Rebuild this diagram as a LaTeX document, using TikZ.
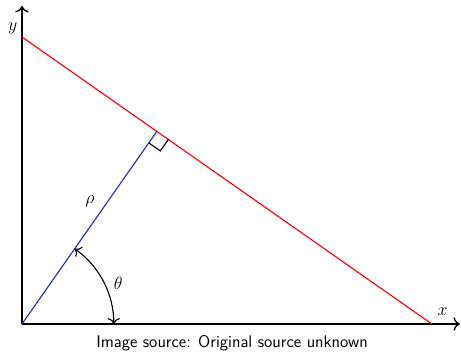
\documentclass[tikz,border=0pt]{standalone}
\usepackage{xcolor}
\usepackage{tikz}
\usetikzlibrary{arrows.meta, calc}

\definecolor{normblue}{RGB}{30,50,170}

\begin{document}
\begin{tikzpicture}[>={To[scale=1.2]},
        every node/.style={font=\fontsize{12.5pt}{14pt}\selectfont},
        axis/.style={->, line width=0.9pt},
        redline/.style={red, line width=0.75pt},
        normal/.style={normblue, line width=0.75pt},
        anglearc/.style={<->, line width=0.75pt},
        rightangle/.style={line width=0.75pt},
        caption/.style={font=\fontsize{11.3pt}{13pt}\selectfont\sffamily}]
        \useasboundingbox (-0.517,-0.635) rectangle (10.325,7.62);

        \coordinate (O) at (0,0);
        \coordinate (xend) at (10.3,0);
        \coordinate (yend) at (0,7.48);
        \coordinate (A) at (0,6.75);
        \coordinate (B) at (9.64,0);
        \coordinate (F) at (55:5.53);
        \coordinate (arcstart) at (2.16,0);

        \draw[axis] (O) -- (xend);
        \draw[axis] (O) -- (yend);
        \node (xlab) at (9.89,0.29) {$x$};
        \node (ylab) at (-0.22,6.95) {$y$};

        \draw[redline] (A) -- (B);
        \draw[normal] (O) -- (F);
        \draw[rightangle] ($(F)+(235:0.33)$) -- ++(-35:0.33) -- ($(F)+(-35:0.33)$);

        \draw[anglearc] (arcstart) arc[start angle=0, end angle=55, radius=2.16];
        \node (theta) at (23:2.46) {$\theta$};
        \node (rho) at (1.60,2.88) {$\rho$};

        \node[caption] (source) at (4.94,-0.45) {Image source: Original source unknown};
\end{tikzpicture}
\end{document}
